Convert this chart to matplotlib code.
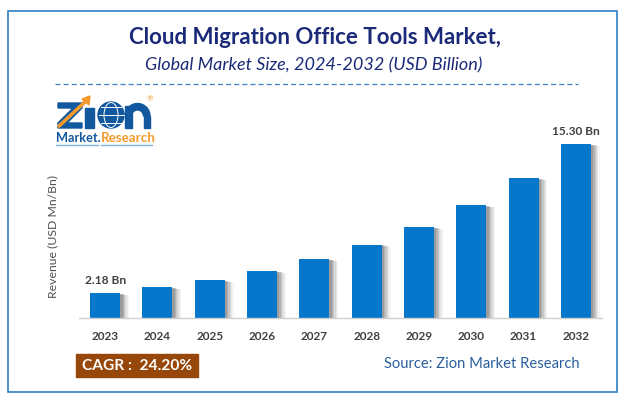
import numpy as np
import matplotlib
matplotlib.use('Agg')
import matplotlib.pyplot as plt
from matplotlib.patches import Rectangle, Circle, Polygon, Wedge, Ellipse

plt.rcParams['font.family'] = ['Lato', 'DejaVu Sans']

years = ['2023', '2024', '2025', '2026', '2027', '2028', '2029', '2030', '2031', '2032']
values = [2.18, 2.70, 3.33, 4.13, 5.19, 6.45, 8.00, 9.90, 12.28, 15.30]
first_label = '2.18 Bn'
last_label = '15.30 Bn'

W, H = 625, 404
BLUE = '#0777CC'
NAVY = '#1B2A78'

fig = plt.figure(figsize=(W / 100, H / 100), dpi=100, facecolor='white')

# overlay in pixel coords for frame, titles and logo
bg = fig.add_axes([0, 0, 1, 1])
bg.set_xlim(0, W)
bg.set_ylim(H, 0)
bg.axis('off')

bg.add_patch(Rectangle((7.5, 10.5), 609, 381, fill=False, ec='#2E7FC4', lw=1.2))
bg.text(315, 38, 'Cloud Migration Office Tools Market,', ha='center', va='center',
        fontsize=16, fontweight='bold', color=NAVY)
bg.text(314, 65, 'Global Market Size, 2024-2032 (USD Billion)', ha='center', va='center',
        fontsize=13, style='italic', color=NAVY)
bg.plot([55, 578], [83.5, 83.5], color='#3F7FC0', lw=0.9, ls=(0, (4, 2.5)))

# logo
LOGO_BLUE = '#12589F'
LOGO_ORANGE = '#F39A2B'
bg.add_patch(Polygon([(58, 103), (82, 103), (82, 108), (67, 123), (82, 123), (82, 128),
                      (58, 128), (58, 123), (73, 108), (58, 108)], color=LOGO_BLUE))
bg.plot([58, 86], [127, 101], color=LOGO_ORANGE, lw=2.6, solid_capstyle='butt')
bg.add_patch(Polygon([(90, 96), (89, 105), (82, 99)], color=LOGO_ORANGE))
bg.add_patch(Rectangle((85, 108), 9, 20, color=LOGO_BLUE))
bg.add_patch(Circle((111, 115), 13, color=LOGO_BLUE))
bg.add_patch(Ellipse((111, 115), 14, 25, fill=False, ec='white', lw=0.7))
bg.plot([98.5, 123.5], [115, 115], color='white', lw=0.7)
bg.plot([101, 121], [107, 107], color='white', lw=0.7)
bg.plot([101, 121], [123, 123], color='white', lw=0.7)
# the n of the logo
bg.add_patch(Wedge((137.5, 116), 12.5, 180, 360, width=6.5, color=LOGO_BLUE))
bg.add_patch(Rectangle((125, 106), 6.5, 22, color=LOGO_BLUE))
bg.add_patch(Rectangle((143.5, 116), 6.5, 12, color=LOGO_BLUE))
bg.text(149.5, 99, '®', ha='center', va='center', fontsize=5.5, color=LOGO_ORANGE)
bg.text(56, 138, 'Market.', ha='left', va='center', fontsize=9.2, fontweight='bold', color=LOGO_BLUE)
bg.text(101, 138, 'Research', ha='left', va='center', fontsize=9.6, fontweight='bold', color=LOGO_ORANGE)
bg.plot([56, 98], [145, 145], color='#7FB2DC', lw=1)
bg.plot([101, 152], [145, 145], color='#7FB2DC', lw=1)

# CAGR badge and source
bg.add_patch(Rectangle((76, 354), 122, 23, color='#97470A'))
bg.text(137, 366, 'CAGR :  24.20%', ha='center', va='center', fontsize=11.2,
        fontweight='bold', color='white')
bg.text(481.5, 364.5, 'Source: Zion Market Research', ha='center', va='center',
        fontsize=10.6, color='#2A5F9E')

# bar chart, baseline at y=318 px
ax = fig.add_axes([79 / W, 1 - 318 / H, (602 - 79) / W, (318 - 100) / H])
ax.patch.set_alpha(0)
ax.set_xlim(-0.5, 9.5)
ax.set_ylim(0, 218 / 11.37)
x = np.arange(len(years))

# soft shadow to the right of each bar, fading outwards
for off, a in [(0.17, 0.05), (0.145, 0.07), (0.12, 0.09), (0.095, 0.12), (0.07, 0.15), (0.045, 0.2)]:
    ax.bar(x + off, np.array(values) - off, width=0.575, color='#444444', alpha=a, lw=0)
ax.bar(x, values, width=0.575, color=BLUE, lw=0)

ax.text(x[0], values[0] + 0.65, first_label, ha='center', va='bottom', fontsize=8.6,
        fontweight='bold', color='#404040')
ax.text(x[-1], values[-1] + 0.65, last_label, ha='center', va='bottom', fontsize=8.6,
        fontweight='bold', color='#404040')

ax.set_xticks(x)
ax.set_xticklabels(years, fontsize=8.5, fontweight='bold', color='#404040')
ax.tick_params(axis='x', length=0, pad=9)
ax.set_yticks([])
for s in ['top', 'right', 'left']:
    ax.spines[s].set_visible(False)
ax.spines['bottom'].set_color('#D0D0D0')
ax.spines['bottom'].set_linewidth(1)

bg.text(53, 236, 'Revenue (USD Mn/Bn)', rotation=90, ha='center', va='center',
        fontsize=8.8, color='#505050')

fig.savefig('out.png', dpi=100)
